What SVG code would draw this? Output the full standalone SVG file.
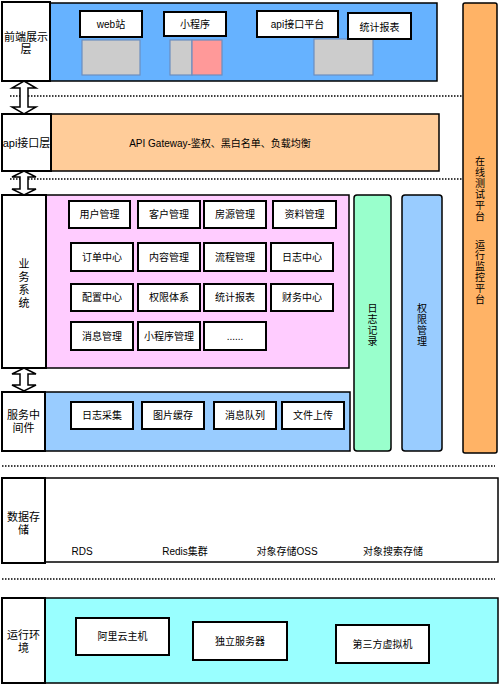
<svg xmlns="http://www.w3.org/2000/svg" width="500" height="684" viewBox="0 0 500 684">
<style>
text{font-family:"Liberation Sans","Noto Sans CJK SC",sans-serif;fill:#000;text-anchor:middle;dominant-baseline:central}
.lbl{fill:#fff;stroke:#000;stroke-width:2}
.t{font-size:11px}
.s{font-size:10px}
.box{fill:#fff;stroke:#000;stroke-width:2}
.grey{fill:#ccc;stroke:#6c8ebf;stroke-width:1.2}
.dot{stroke:#000;stroke-width:1.5;stroke-dasharray:1.5 1.5;fill:none}
.arr{fill:#fff;stroke:#000;stroke-width:1.5}
</style>

<g id="connectors">
<line class="dot" x1="10" y1="96" x2="465" y2="96"/>
<line class="dot" x1="10" y1="179" x2="465" y2="179"/>
<line class="dot" x1="2" y1="466" x2="495" y2="466"/>
<line class="dot" x1="2" y1="579" x2="495" y2="579"/>
<path class="arr" d="M24 81 L36 88 L28 88 L28 107 L36 107 L24 114 L12 107 L20 107 L20 88 L12 88 Z"/>
<path class="arr" d="M24 171 L36 177 L28 177 L28 189 L36 189 L24 195 L12 189 L20 189 L20 177 L12 177 Z"/>
<path class="arr" d="M24 368 L36 374 L28 374 L28 385 L36 385 L24 391 L12 385 L20 385 L20 374 L12 374 Z"/>
</g>

<g id="frontend">
<rect x="50" y="3" width="387" height="78" fill="#66b2ff" stroke="#000" stroke-width="1.5"/>
<rect class="lbl" x="2" y="2" width="48" height="79"/>
<text class="t" x="26" y="37">前端展示</text>
<text class="t" x="26" y="49">层</text>
</g>
<g id="web">
<rect class="box" x="80" y="11" width="62" height="26"/>
<text class="s" x="111" y="24">web站</text>
<rect class="grey" x="82" y="40" width="58" height="35"/>
</g>
<g id="miniapp">
<rect class="box" x="164" y="12" width="62" height="24"/>
<text class="s" x="195" y="24">小程序</text>
<rect class="grey" x="170" y="40" width="22" height="35"/>
<rect x="192" y="40" width="30" height="35" fill="#ff9999" stroke="#6c8ebf" stroke-width="1.2"/>
</g>
<g id="apiplat">
<rect class="box" x="257" y="11" width="81" height="26"/>
<text class="s" x="297.5" y="24">api接口平台</text>
<rect class="grey" x="314" y="39" width="59" height="36"/>
</g>
<g id="stats">
<rect class="box" x="348" y="13" width="63" height="26"/>
<text class="s" x="379.5" y="27">统计报表</text>
</g>

<g id="api">
<rect x="51" y="114" width="388" height="57" fill="#ffcc99" stroke="#000" stroke-width="1.5"/>
<rect class="lbl" x="2" y="114" width="49" height="57"/>
<text class="t" x="26.5" y="143">api接口层</text>
<text class="s" x="220" y="143">API Gateway-鉴权、黑白名单、负载均衡</text>
</g>

<g id="monitor">
<rect x="463" y="3" width="34" height="450" rx="2" fill="#ffb366" stroke="#000" stroke-width="1.5"/>
<text class="s" x="480" y="161">在</text>
<text class="s" x="480" y="172">线</text>
<text class="s" x="480" y="183">测</text>
<text class="s" x="480" y="194">试</text>
<text class="s" x="480" y="205">平</text>
<text class="s" x="480" y="216">台</text>
<text class="s" x="480" y="244">运</text>
<text class="s" x="480" y="255">行</text>
<text class="s" x="480" y="266">监</text>
<text class="s" x="480" y="277">控</text>
<text class="s" x="480" y="288">平</text>
<text class="s" x="480" y="299">台</text>
</g>

<g id="business">
<rect x="46" y="195" width="303" height="173" fill="#ffccff" stroke="#000" stroke-width="1.5"/>
<rect class="lbl" x="2" y="195" width="44" height="173"/>
<text class="t" x="24" y="264">业</text>
<text class="t" x="24" y="277">务</text>
<text class="t" x="24" y="290">系</text>
<text class="t" x="24" y="303">统</text>
</g>
<g id="b1"><rect class="box" x="69" y="201" width="61" height="27"/><text class="s" x="99.5" y="214.5">用户管理</text></g>
<g id="b2"><rect class="box" x="138" y="201" width="62" height="27"/><text class="s" x="169" y="214.5">客户管理</text></g>
<g id="b3"><rect class="box" x="204" y="201" width="62" height="27"/><text class="s" x="235" y="214.5">房源管理</text></g>
<g id="b4"><rect class="box" x="273" y="201" width="63" height="27"/><text class="s" x="304.5" y="214.5">资料管理</text></g>
<g id="b5"><rect class="box" x="71" y="243" width="62" height="28"/><text class="s" x="102" y="257">订单中心</text></g>
<g id="b6"><rect class="box" x="138" y="243" width="62" height="28"/><text class="s" x="169" y="257">内容管理</text></g>
<g id="b7"><rect class="box" x="204" y="243" width="62" height="28"/><text class="s" x="235" y="257">流程管理</text></g>
<g id="b8"><rect class="box" x="271" y="243" width="62" height="28"/><text class="s" x="302" y="257">日志中心</text></g>
<g id="b9"><rect class="box" x="71" y="284" width="62" height="27"/><text class="s" x="102" y="297.5">配置中心</text></g>
<g id="b10"><rect class="box" x="138" y="284" width="62" height="27"/><text class="s" x="169" y="297.5">权限体系</text></g>
<g id="b11"><rect class="box" x="204" y="284" width="62" height="27"/><text class="s" x="235" y="297.5">统计报表</text></g>
<g id="b12"><rect class="box" x="271" y="284" width="62" height="27"/><text class="s" x="302" y="297.5">财务中心</text></g>
<g id="b13"><rect class="box" x="71" y="322" width="62" height="28"/><text class="s" x="102" y="336">消息管理</text></g>
<g id="b14"><rect class="box" x="138" y="322" width="62" height="28"/><text class="s" x="169" y="336">小程序管理</text></g>
<g id="b15"><rect class="box" x="204" y="322" width="62" height="28"/><text class="s" x="235" y="336">......</text></g>

<g id="logrec">
<rect x="354" y="195" width="37" height="256" rx="3" fill="#99ffcc" stroke="#000" stroke-width="1.5"/>
<text class="s" x="372.5" y="308">日</text>
<text class="s" x="372.5" y="319">志</text>
<text class="s" x="372.5" y="330">记</text>
<text class="s" x="372.5" y="341">录</text>
</g>
<g id="permmgr">
<rect x="402" y="195" width="40" height="256" rx="3" fill="#99ccff" stroke="#000" stroke-width="1.5"/>
<text class="s" x="422" y="308">权</text>
<text class="s" x="422" y="319">限</text>
<text class="s" x="422" y="330">管</text>
<text class="s" x="422" y="341">理</text>
</g>

<g id="middleware">
<rect x="45" y="392" width="305" height="59" fill="#99ccff" stroke="#000" stroke-width="1.5"/>
<rect class="lbl" x="2" y="392" width="43" height="59"/>
<text class="t" x="23.5" y="415">服务中</text>
<text class="t" x="23.5" y="428">间件</text>
</g>
<g id="m1"><rect class="box" x="71" y="402" width="62" height="27"/><text class="s" x="102" y="415.5">日志采集</text></g>
<g id="m2"><rect class="box" x="142" y="402" width="62" height="27"/><text class="s" x="173" y="415.5">图片缓存</text></g>
<g id="m3"><rect class="box" x="214" y="402" width="62" height="27"/><text class="s" x="245" y="415.5">消息队列</text></g>
<g id="m4"><rect class="box" x="282" y="402" width="62" height="27"/><text class="s" x="313" y="415.5">文件上传</text></g>

<g id="storage">
<rect x="45" y="478" width="453" height="84" fill="#fff" stroke="#000" stroke-width="1.5"/>
<rect class="lbl" x="2" y="478" width="43" height="85"/>
<text class="t" x="23.5" y="517">数据存</text>
<text class="t" x="23.5" y="530">储</text>
<text class="s" x="82" y="551">RDS</text>
<text class="s" x="185" y="551">Redis集群</text>
<text class="s" x="287" y="551">对象存储OSS</text>
<text class="s" x="393" y="551">对象搜索存储</text>
</g>

<g id="runtime">
<rect x="45" y="598" width="453" height="85" fill="#99ffff" stroke="#000" stroke-width="1.5"/>
<rect class="lbl" x="2" y="598" width="43" height="85"/>
<text class="t" x="23.5" y="635">运行环</text>
<text class="t" x="23.5" y="648">境</text>
</g>
<g id="r1"><rect class="box" x="76" y="618" width="93" height="37" stroke-width="1.5"/><text class="s" x="122.5" y="636.5">阿里云主机</text></g>
<g id="r2"><rect class="box" x="193" y="622" width="94" height="38" stroke-width="1.5"/><text class="s" x="240" y="641">独立服务器</text></g>
<g id="r3"><rect class="box" x="336" y="625" width="93" height="38" stroke-width="1.5"/><text class="s" x="382.5" y="644">第三方虚拟机</text></g>
</svg>
